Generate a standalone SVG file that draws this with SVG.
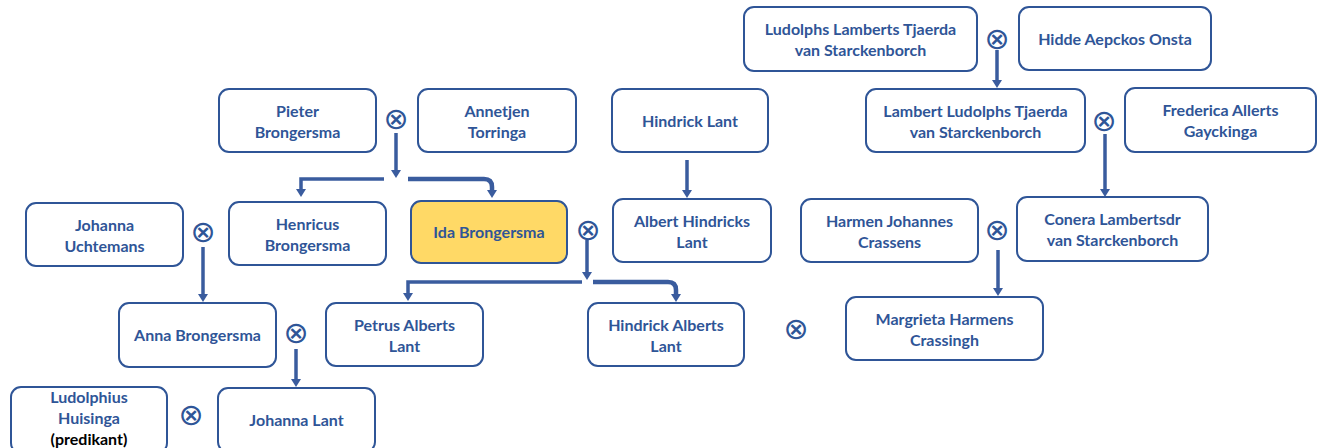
<svg xmlns="http://www.w3.org/2000/svg" width="1325" height="448" viewBox="0 0 1325 448">
<defs>
<style>
.box{fill:#ffffff;stroke:#2F5597;stroke-width:2}
.hl{fill:#FFD966}
.t{font-family:Lato,"Open Sans","Liberation Sans",sans-serif;font-weight:bold;font-size:16px;fill:#2F5597;text-anchor:middle}
.blk{fill:#000000}
.x{font-family:"DejaVu Sans",sans-serif;font-size:30px;fill:#2F5597;text-anchor:middle}
.ar{fill:none;stroke:#3A5C9E;stroke-width:3.5;marker-end:url(#ah)}
.arw{stroke-width:4.5}
</style>
<marker id="ah" markerUnits="userSpaceOnUse" markerWidth="10" markerHeight="10" viewBox="0 0 8 10" refX="2" refY="5" orient="auto">
<path d="M0,0 L8,5 L0,10 z" fill="#3A5C9E"/>
</marker>
</defs>
<rect width="1325" height="448" fill="#ffffff"/>

<g id="connectors">
<path class="ar" d="M997,50 V82"/>
<path class="ar" d="M1105,134 V191"/>
<path class="ar" d="M998,250 V290"/>
<path class="ar" d="M687,160 V192"/>
<path class="ar" d="M203,247 V296"/>
<path class="ar" d="M296,349 V381"/>
<path class="ar" d="M396,133 V172"/>
<path class="ar" d="M384,179 H301 V191"/>
<path class="ar arw" d="M408,179 H484 Q492,179 492,187 V192"/>
<path class="ar" d="M587,240 V274"/>
<path class="ar" d="M582,282 H408 V295"/>
<path class="ar arw" d="M593,282 H668 Q676,282 676,290 V296"/>
<text class="x" x="396" y="129">⊗</text>
<text class="x" x="997" y="49">⊗</text>
<text class="x" x="1104" y="131">⊗</text>
<text class="x" x="997" y="240">⊗</text>
<text class="x" x="796" y="339">⊗</text>
<text class="x" x="588" y="240">⊗</text>
<text class="x" x="203" y="242">⊗</text>
<text class="x" x="296" y="343">⊗</text>
<text class="x" x="191" y="425">⊗</text>
</g>

<g id="n-ludolphs"><rect class="box" x="744" y="7" width="233" height="64" rx="10"/>
<text class="t" x="860.5" y="35">Ludolphs Lamberts Tjaerda</text><text class="t" x="860.5" y="56">van Starckenborch</text></g>
<g id="n-hidde"><rect class="box" x="1019" y="7" width="192" height="63" rx="10"/>
<text class="t" x="1115" y="45">Hidde Aepckos Onsta</text></g>
<g id="n-lambert"><rect class="box" x="866" y="89" width="219" height="63" rx="10"/>
<text class="t" x="975.5" y="116.5">Lambert Ludolphs Tjaerda</text><text class="t" x="975.5" y="137.5">van Starckenborch</text></g>
<g id="n-frederica"><rect class="box" x="1125" y="88" width="191" height="64" rx="10"/>
<text class="t" x="1220.5" y="116">Frederica Allerts</text><text class="t" x="1220.5" y="137">Gayckinga</text></g>
<g id="n-pieter"><rect class="box" x="219" y="89" width="157" height="63" rx="10"/>
<text class="t" x="297.5" y="116.5">Pieter</text><text class="t" x="297.5" y="137.5">Brongersma</text></g>
<g id="n-annetjen"><rect class="box" x="418" y="89" width="158" height="63" rx="10"/>
<text class="t" x="497" y="116.5">Annetjen</text><text class="t" x="497" y="137.5">Torringa</text></g>
<g id="n-hindrick"><rect class="box" x="612" y="89" width="156" height="63" rx="10"/>
<text class="t" x="690" y="126.5">Hindrick Lant</text></g>
<g id="n-johannaU"><rect class="box" x="26" y="203" width="157" height="63" rx="10"/>
<text class="t" x="104.5" y="230.5">Johanna</text><text class="t" x="104.5" y="251.5">Uchtemans</text></g>
<g id="n-henricus"><rect class="box" x="229" y="202" width="157" height="63" rx="10"/>
<text class="t" x="307.5" y="229.5">Henricus</text><text class="t" x="307.5" y="250.5">Brongersma</text></g>
<g id="n-ida"><rect class="box hl" x="411" y="201" width="156" height="62" rx="10"/>
<text class="t" x="489" y="238">Ida Brongersma</text></g>
<g id="n-albert"><rect class="box" x="613" y="199" width="158" height="63" rx="10"/>
<text class="t" x="692" y="226.5">Albert Hindricks</text><text class="t" x="692" y="247.5">Lant</text></g>
<g id="n-harmen"><rect class="box" x="801" y="199" width="177" height="63" rx="10"/>
<text class="t" x="889.5" y="226.5">Harmen Johannes</text><text class="t" x="889.5" y="247.5">Crassens</text></g>
<g id="n-conera"><rect class="box" x="1017" y="197" width="191" height="64" rx="10"/>
<text class="t" x="1112.5" y="225">Conera Lambertsdr</text><text class="t" x="1112.5" y="246">van Starckenborch</text></g>
<g id="n-anna"><rect class="box" x="119" y="303" width="157" height="64" rx="10"/>
<text class="t" x="197.5" y="341">Anna Brongersma</text></g>
<g id="n-petrus"><rect class="box" x="326" y="303" width="157" height="63" rx="10"/>
<text class="t" x="404.5" y="330.5">Petrus Alberts</text><text class="t" x="404.5" y="351.5">Lant</text></g>
<g id="n-hindrickA"><rect class="box" x="588" y="303" width="156" height="63" rx="10"/>
<text class="t" x="666" y="330.5">Hindrick Alberts</text><text class="t" x="666" y="351.5">Lant</text></g>
<g id="n-margrieta"><rect class="box" x="846" y="297" width="197" height="63" rx="10"/>
<text class="t" x="944.5" y="324.5">Margrieta Harmens</text><text class="t" x="944.5" y="345.5">Crassingh</text></g>
<g id="n-ludolphius"><rect class="box" x="11" y="387" width="156" height="66" rx="10"/>
<text class="t" x="89" y="403">Ludolphius</text><text class="t" x="89" y="424">Huisinga</text><text class="t blk" x="89" y="445">(predikant)</text></g>
<g id="n-johannaL"><rect class="box" x="218" y="388" width="157" height="64" rx="10"/>
<text class="t" x="296.5" y="426">Johanna Lant</text></g>
</svg>
